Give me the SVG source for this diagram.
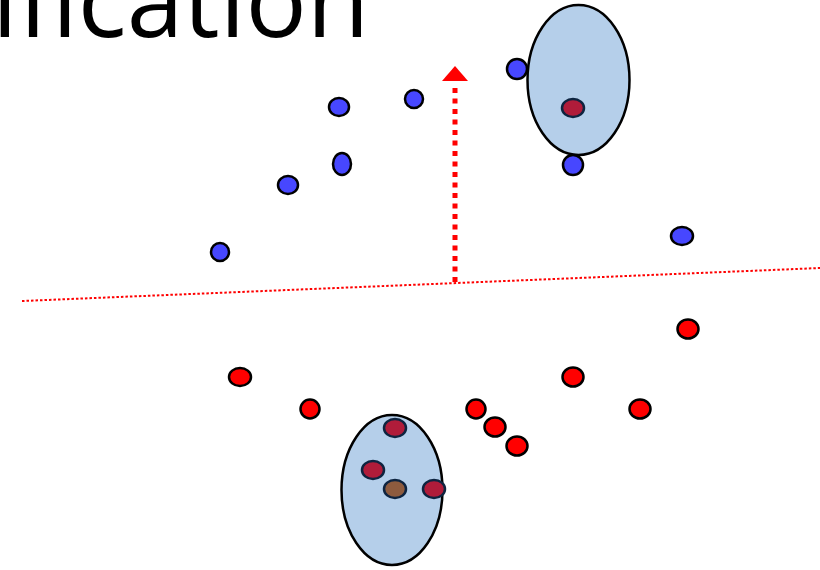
<svg xmlns="http://www.w3.org/2000/svg" width="820" height="570" viewBox="0 0 820 570">
<style>
.blue{fill:#4747FF;stroke:#000;stroke-width:2.5}
.red{fill:#FF0000;stroke:#000;stroke-width:2.5}
.dred{fill:#B01C3A;stroke:#0E2440;stroke-width:2.5}
.brown{fill:#8E5B3E;stroke:#0E2440;stroke-width:2.5}
.cluster{fill:#B5CFEA;stroke:#000;stroke-width:2.5}
.title{font-family:"Open Sans","DejaVu Sans",sans-serif;font-size:102px;fill:#000}
</style>
<rect width="820" height="570" fill="#fff"/>
<text class="title" x="-8" y="37">ification</text>
<g id="separator">
<line x1="22" y1="301" x2="820" y2="268" stroke="#FF0000" stroke-width="2" stroke-dasharray="2.5,2"/>
</g>
<g id="margin-arrow">
<line x1="455" y1="282" x2="455" y2="84" stroke="#FF0000" stroke-width="5" stroke-dasharray="5,5.5"/>
<polygon points="442,81 468,81 455,66" fill="#FF0000"/>
</g>
<g id="cluster-top">
<ellipse class="cluster" cx="578.5" cy="80" rx="51" ry="75"/>
<ellipse class="dred" cx="573" cy="108" rx="11" ry="9"/>
</g>
<g id="blue-points">
<ellipse class="blue" cx="339" cy="107" rx="10" ry="9"/>
<ellipse class="blue" cx="414" cy="99" rx="9" ry="9"/>
<ellipse class="blue" cx="342" cy="164" rx="9" ry="11"/>
<ellipse class="blue" cx="288" cy="185" rx="10" ry="9"/>
<ellipse class="blue" cx="220" cy="252" rx="9" ry="9"/>
<ellipse class="blue" cx="517" cy="69" rx="10" ry="10"/>
<ellipse class="blue" cx="573" cy="165" rx="10" ry="10"/>
<ellipse class="blue" cx="682" cy="236" rx="11" ry="9"/>
</g>
<g id="red-points">
<ellipse class="red" cx="240" cy="377" rx="11" ry="9"/>
<ellipse class="red" cx="310" cy="409" rx="9.5" ry="9.5"/>
<ellipse class="red" cx="476" cy="409" rx="9.5" ry="9.5"/>
<ellipse class="red" cx="495" cy="427" rx="10.5" ry="9.5"/>
<ellipse class="red" cx="517" cy="446" rx="10.5" ry="9.5"/>
<ellipse class="red" cx="573" cy="377" rx="10.5" ry="9.5"/>
<ellipse class="red" cx="640" cy="409" rx="10.5" ry="9.5"/>
<ellipse class="red" cx="688" cy="329" rx="10.5" ry="9.5"/>
</g>
<g id="cluster-bottom">
<ellipse class="cluster" cx="392" cy="490" rx="50.5" ry="75"/>
<ellipse class="dred" cx="395" cy="428" rx="11" ry="9"/>
<ellipse class="dred" cx="373" cy="470" rx="11" ry="9"/>
<ellipse class="brown" cx="395" cy="489" rx="11" ry="9"/>
<ellipse class="dred" cx="434" cy="489" rx="11" ry="9"/>
</g>
</svg>
